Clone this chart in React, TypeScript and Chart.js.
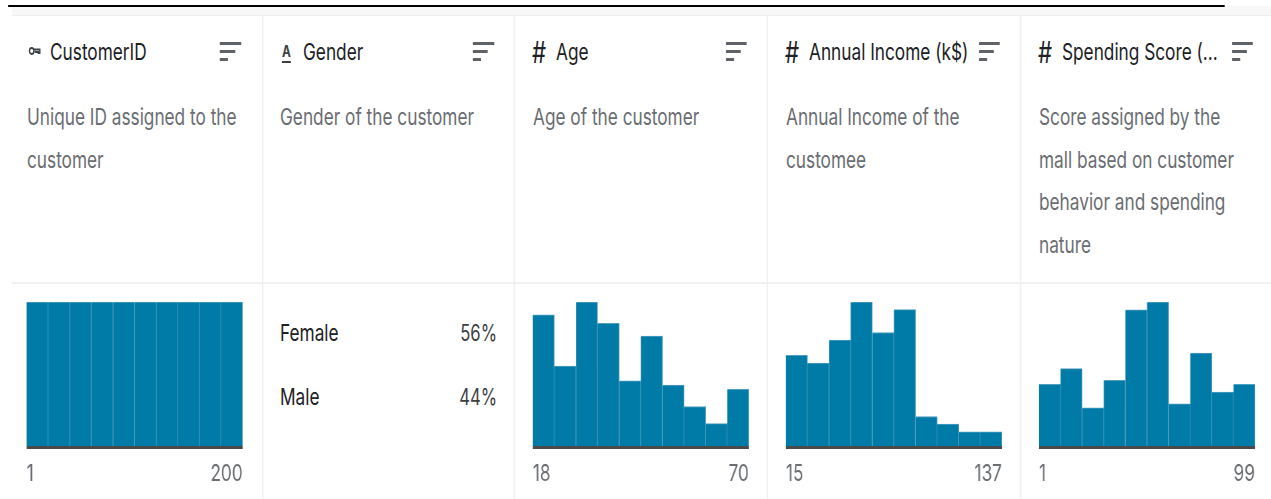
import React, { useEffect, useRef } from "react";
import Chart from "chart.js/auto";

const customerCounts = [20, 20, 20, 20, 20, 20, 20, 20, 20, 20];
const ageCounts = [31, 19, 34, 29, 15.5, 26, 14.5, 9.5, 5.5, 13.5];
const incomeCounts = [24, 22, 28, 38, 30, 36, 8, 6, 4, 4];
const spendingCounts = [16, 20, 10, 17, 35, 37, 11, 24, 14, 16];
const binLabels = ["1", "2", "3", "4", "5", "6", "7", "8", "9", "10"];

const titles = ["CustomerID", "Gender", "Age", "Annual Income (k$)", "Spending Score (..."];
const descriptions = [
  ["Unique ID assigned to the", "customer"],
  ["Gender of the customer"],
  ["Age of the customer"],
  ["Annual Income of the", "customee"],
  ["Score assigned by the", "mall based on customer", "behavior and spending", "nature"],
];
const genderLabels = ["Female", "Male"];
const genderShares = ["56%", "44%"];

const SX = 0.74;
const COLS = [27, 280, 533, 786, 1039];
const SEPARATORS = [261.6, 513.6, 766.6, 1019.6];
const FONT = "Inter, 'Noto Sans', sans-serif";
const TEXT_SIZE = 23.3;
const px = (x: number) => x / SX;

function Histogram({ x, values, min, max }: { x: number; values: number[]; min: number; max: number }) {
  const ref = useRef<HTMLCanvasElement>(null);
  useEffect(() => {
    const chart = new Chart(ref.current!, {
      type: "bar",
      data: {
        labels: binLabels,
        datasets: [
          {
            data: values,
            backgroundColor: "#007aa6",
            borderColor: "#4f9fc0",
            borderWidth: { top: 1, right: 1, left: 0, bottom: 0 },
            barPercentage: 1,
            categoryPercentage: 1,
          },
        ],
      },
      options: {
        animation: false,
        responsive: false,
        layout: { padding: 0 },
        plugins: { legend: { display: false }, tooltip: { enabled: false } },
        scales: {
          x: { display: false },
          y: { display: false, min: 0, max: Math.max(...values) },
          range: {
            type: "linear",
            axis: "x",
            position: "bottom",
            offset: false,
            min,
            max,
            afterBuildTicks: (a: any) => {
              a.ticks = [{ value: min }, { value: max }];
            },
            afterFit: (a: any) => {
              a.paddingLeft = 0;
              a.paddingRight = 0;
            },
            grid: { display: false, drawTicks: false, offset: false },
            border: { display: true, color: "#4a4a4a", width: 3, z: 1 },
            ticks: {
              align: "inner",
              autoSkip: false,
              maxRotation: 0,
              padding: 13,
              color: "#6a6d72",
              font: { family: "Inter", size: TEXT_SIZE },
              callback: (v: any) => String(v),
            },
          },
        },
      } as any,
    });
    return () => chart.destroy();
  }, []);
  return (
    <canvas
      ref={ref}
      width={px(216)}
      height={199}
      style={{ position: "absolute", left: px(x), top: 302, width: px(216), height: 199 }}
    />
  );
}

function Line({ x, cy, color, size = TEXT_SIZE, right, children }: any) {
  const style: any = {
    position: "absolute",
    top: cy - 20,
    lineHeight: "40px",
    fontSize: size,
    color,
    whiteSpace: "nowrap",
  };
  if (right !== undefined) style.right = px(1271 - right);
  else style.left = px(x);
  return <div style={style}>{children}</div>;
}

function SortIcon({ x }: { x: number }) {
  const bars = [
    [42, 21],
    [50, 15],
    [57.5, 8],
  ];
  return (
    <>
      {bars.map(([y, w]) => (
        <div
          key={y}
          style={{ position: "absolute", left: px(x), top: y, width: px(w), height: 3, background: "#5f6368" }}
        />
      ))}
    </>
  );
}

function TypeIcon({ kind, x }: { kind: number; x: number }) {
  if (kind === 0) {
    return (
      <svg style={{ position: "absolute", left: px(x), top: 45 }} width={px(16)} height={12} viewBox="0 0 16 12">
        <circle cx="4" cy="6" r="3" fill="none" stroke="#3c4043" strokeWidth="1.8" />
        <path d="M7 4.5H15V8H13V7H8" fill="none" stroke="#3c4043" strokeWidth="1.8" />
      </svg>
    );
  }
  if (kind === 1) {
    return (
      <div
        style={{
          position: "absolute",
          left: px(x + 2),
          top: 41,
          fontSize: 16,
          fontWeight: 700,
          lineHeight: "20px",
          color: "#3c4043",
          borderBottom: "2px solid #3c4043",
        }}
      >
        A
      </div>
    );
  }
  return (
    <Line x={x - 1} cy={51.5} color="#202124" size={30}>
      #
    </Line>
  );
}

export default function App() {
  useEffect(() => {
    document.body.style.margin = "0";
    document.body.style.overflow = "hidden";
  }, []);
  const series = [
    { i: 0, values: customerCounts, min: 1, max: 200 },
    { i: 2, values: ageCounts, min: 18, max: 70 },
    { i: 3, values: incomeCounts, min: 15, max: 137 },
    { i: 4, values: spendingCounts, min: 1, max: 99 },
  ];
  return (
    <div
      style={{
        position: "fixed",
        left: 0,
        top: 0,
        width: px(1271),
        height: 499,
        background: "#fff",
        overflow: "hidden",
        transform: `scaleX(${SX})`,
        transformOrigin: "0 0",
        fontFamily: FONT,
      }}
    >
      <div style={{ position: "absolute", left: px(12), top: 6, width: px(1259), height: 9, background: "#f7f7f7", borderBottom: "1px solid #eeeeee" }} />
      <div style={{ position: "absolute", left: px(8), top: 5, width: px(1217), height: 1.5, background: "#000" }} />
      <div style={{ position: "absolute", left: px(12), top: 282, width: px(1259), height: 2, background: "#f1f1f1" }} />
      {SEPARATORS.map((x) => (
        <div key={x} style={{ position: "absolute", left: px(x), top: 15, width: px(1.5), height: 484, background: "#f0f0f0" }} />
      ))}
      {titles.map((t, i) => (
        <React.Fragment key={t}>
          <TypeIcon kind={i} x={COLS[i]} />
          <Line x={COLS[i] + 23} cy={51.5} color="#202124">{t}</Line>
          <SortIcon x={COLS[i] + 193} />
          {descriptions[i].map((d, j) => (
            <Line key={d} x={COLS[i]} cy={117 + j * 42.6} color="#6a6d72">{d}</Line>
          ))}
        </React.Fragment>
      ))}
      {genderLabels.map((g, i) => (
        <React.Fragment key={g}>
          <Line x={COLS[1]} cy={333 + i * 64} color="#202124">{g}</Line>
          <Line right={497} cy={333 + i * 64} color="#3c4043" size={22.5}>{genderShares[i]}</Line>
        </React.Fragment>
      ))}
      {series.map((s) => (
        <Histogram key={s.i} x={COLS[s.i]} values={s.values} min={s.min} max={s.max} />
      ))}
    </div>
  );
}
